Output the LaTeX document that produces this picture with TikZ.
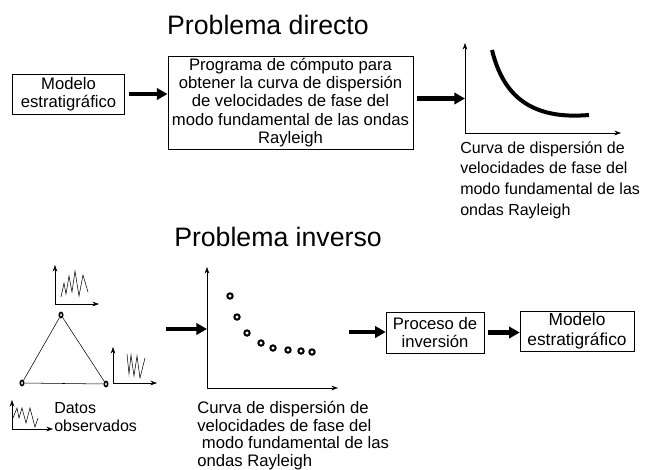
\documentclass[tikz,border=0pt]{standalone}
\usepackage{fontspec}
\setmainfont{Liberation Sans}
\usetikzlibrary{arrows.meta,shapes.geometric}
\tikzset{
  caja/.style={draw,thin,align=center,inner sep=1pt,font=\fontsize{12.5}{13.7}\selectfont},
  flecha/.style={line width=3.5pt,-{Triangle[length=8pt,width=8.5pt]},shorten <=3pt},
  eje/.style={thin,-{Stealth[length=5pt,width=3.5pt]}},
  titulo/.style={font=\fontsize{20}{24}\selectfont},
  leyenda/.style={align=left,anchor=north west,inner sep=0pt},
  punto/.style={circle,draw,line width=1.5pt,inner sep=0pt,minimum size=4pt},
  estacion/.style={ellipse,draw,line width=1.2pt,inner sep=0pt,minimum width=2.6pt,minimum height=3.8pt},
}
\begin{document}
\begin{tikzpicture}[x=.75pt,y=-.75pt]
\useasboundingbox (0,0) rectangle (651,469);
% problema directo
\node[titulo] (tdir) at (268,25) {Problema directo};
\node[caja,minimum width=84pt,minimum height=30pt] (mod1) at (68.5,94) {Modelo\\estratigráfico};
\node[caja,minimum width=184pt,minimum height=70pt] (prog) at (290.5,102.5) {Programa de cómputo para\\obtener la curva de dispersión\\de velocidades de fase del\\modo fundamental de las ondas\\Rayleigh};
\coordinate (o1) at (465,133);
\draw[eje] (o1) -- (465,43);
\draw[eje] (o1) -- (621,133);
\draw[line width=3pt] (492,50) .. controls (503,95) and (530,120) .. (589,115);
\node[leyenda,font=\fontsize{12}{15.6}\selectfont] (cap1) at (460,141) {Curva de dispersión de\\velocidades de fase del\\modo fundamental de las\\ondas Rayleigh};
\draw[flecha] (mod1.east) -- (mod1.east -| prog.west);
\draw[flecha] ([yshift=3pt]prog.east) -- ([yshift=3pt]prog.east -| o1);
% problema inverso
\node[titulo] (tinv) at (278,237) {Problema inverso};
\node[estacion] (s1) at (61,315) {};
\node[estacion] (s2) at (22,383) {};
\node[estacion] (s3) at (106,384) {};
\draw (s1) -- (s2) -- (s3) -- (s1);
% sismogramas
\draw[eje] (55,304) -- (55,265);
\draw[eje] (55,304) -- (99,304);
\draw (61,297) -- (64,283) -- (66,294) -- (69,276) -- (72,292) -- (75,271) -- (79,296) -- (83,275) -- (88,292);
\draw[eje] (113,383) -- (113,347);
\draw[eje] (113,383) -- (157,383);
\draw (127,354) -- (129,374) -- (131,355) -- (134,376) -- (137,356) -- (140,378) -- (145,358);
\draw[eje] (12,429) -- (12,400);
\draw[eje] (12,429) -- (53,429);
\draw (13,418) -- (17,408) -- (19,418) -- (22,408) -- (26,423) -- (30,408) -- (35,427) -- (38,418);
\node[leyenda,font=\fontsize{12}{13.5}\selectfont] (datos) at (54,402) {Datos\\observados};
% curva observada
\coordinate (o2) at (207,388);
\draw[eje] (o2) -- (207,267);
\draw[eje] (o2) -- (338,388);
\foreach \x/\y [count=\i] in {230/296,237/317,247/333,261/343,273/348,288/350,301/351,312/352}
  \node[punto] (p\i) at (\x,\y) {};
\node[leyenda,font=\fontsize{12.5}{13.2}\selectfont] (cap2) at (197,401) {Curva de dispersión de\\velocidades de fase del\\\ modo fundamental de las\\ondas Rayleigh};
\coordinate (a3) at (162,329);
\draw[flecha] (a3) -- (a3 -| o2);
\node[caja,minimum width=73.5pt,minimum height=31pt] (proc) at (435,332.5) {Proceso de\\inversión};
\node[caja,minimum width=85.5pt,minimum height=30pt,font=\fontsize{13}{14.5}\selectfont] (mod2) at (577,331) {Modelo\\estratigráfico};
\coordinate (a4) at (345,332);
\draw[flecha] (a4) -- (a4 -| proc.west);
\draw[flecha] (proc.east) -- (proc.east -| mod2.west);
\end{tikzpicture}
\end{document}
